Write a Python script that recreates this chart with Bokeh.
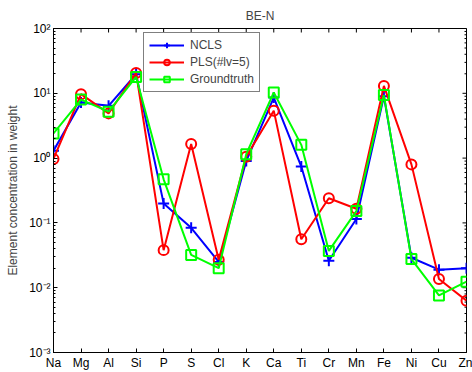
import math
from bokeh.plotting import figure
from bokeh.models import Range1d, FixedTicker, LogTicker, Legend, LegendItem
from bokeh.embed import file_html
from bokeh.resources import INLINE

# Element concentrations (weight) estimated by each method for sample BE-N
elements = ["Na", "Mg", "Al", "Si", "P", "S", "Cl", "K", "Ca", "Ti", "Cr", "Mn", "Fe", "Ni", "Cu", "Zn"]
ncls = [1.3, 7.2, 6.4, 19.7, 0.2, 0.084, 0.025, 0.9, 8.6, 0.74, 0.026, 0.115, 9.0, 0.029, 0.019, 0.020]
pls = [0.97, 9.7, 4.9, 20.6, 0.038, 1.65, 0.027, 1.05, 5.4, 0.056, 0.24, 0.165, 13.0, 0.80, 0.0136, 0.0063]
groundtruth = [2.4, 8.0, 5.2, 17.9, 0.47, 0.032, 0.020, 1.15, 10.3, 1.6, 0.037, 0.152, 9.4, 0.0277, 0.0076, 0.0124]

y_ticks = [1e-3, 1e-2, 1e-1, 1e0, 1e1, 1e2]
y_tick_labels = ["10\u207b\u00b3", "10\u207b\u00b2", "10\u207b\u00b9", "10\u2070", "10\u00b9", "10\u00b2"]

FONT = "Liberation Sans"
FS = "12px"
xs = list(range(1, len(elements) + 1))
x_lo, x_hi = xs[0], xs[-1]
y_lo, y_hi = y_ticks[0], y_ticks[-1]

p = figure(width=472, height=372, x_range=Range1d(x_lo, x_hi), y_range=Range1d(y_lo, y_hi),
           y_axis_type="log", output_backend="svg", toolbar_location=None,
           title="BE-N", min_border_left=53, min_border_right=6,
           min_border_top=28, min_border_bottom=18)
p.background_fill_color = "white"
p.border_fill_color = "white"
p.outline_line_color = "black"
p.outline_line_width = 1
p.xgrid.visible = False
p.ygrid.visible = False

p.title.align = "center"
p.title.text_font = FONT
p.title.text_font_size = FS
p.title.text_font_style = "normal"
p.title.standoff = 12

def style_axis(ax):
    ax.axis_line_color = "black"
    ax.axis_line_width = 1
    ax.major_tick_in = 4
    ax.major_tick_out = 0
    ax.minor_tick_in = 2
    ax.minor_tick_out = 0
    ax.major_tick_line_color = "black"
    ax.minor_tick_line_color = "black"
    ax.major_label_text_font = FONT
    ax.major_label_text_font_size = FS
    ax.major_label_text_color = "black"
    ax.major_label_standoff = 3

xax = p.xaxis[0]
style_axis(xax)
xax.ticker = FixedTicker(ticks=xs)
xax.major_label_overrides = {x: e for x, e in zip(xs, elements)}

yax = p.yaxis[0]
style_axis(yax)
yax.ticker = LogTicker(num_minor_ticks=10)
yax.major_label_overrides = {t: l for t, l in zip(y_ticks, y_tick_labels)}
yax.axis_label = "Element concentration in weight"
yax.axis_label_text_font = FONT
yax.axis_label_text_font_size = FS
yax.axis_label_text_font_style = "normal"
yax.axis_label_standoff = 6

# Mirrored inward ticks on the top and right edges of the box
# (dash markers centred on the frame edge; the outer half is clipped away)
p.scatter(xs, [y_hi] * len(xs), marker="dash", angle=math.pi / 2, size=8,
          line_color="black", line_width=1)
p.scatter([x_hi] * len(y_ticks), y_ticks, marker="dash", size=8,
          line_color="black", line_width=1)
minor_y = [m * t for t in y_ticks[:-1] for m in range(2, 10)]
p.scatter([x_hi] * len(minor_y), minor_y, marker="dash", size=4,
          line_color="black", line_width=1)

series = [
    ("NCLS", ncls, "#0000ff", "cross", 11),
    ("PLS(#lv=5)", pls, "#ff0000", "circle", 10),
    ("Groundtruth", groundtruth, "#00ff00", "square", 10),
]
items = []
for name, vals, color, marker, size in series:
    ln = p.line(xs, vals, line_color=color, line_width=2)
    sc = p.scatter(xs, vals, marker=marker, size=size, line_color=color,
                   fill_color=None, line_width=2)
    items.append(LegendItem(label=name, renderers=[ln, sc]))

legend = Legend(items=items, location=(90, 260))
legend.border_line_color = "black"
legend.border_line_width = 1
legend.background_fill_color = "white"
legend.background_fill_alpha = 1
legend.label_text_font = FONT
legend.label_text_font_size = FS
legend.glyph_width = 35
legend.glyph_height = 14
legend.label_height = 14
legend.label_standoff = 6
legend.spacing = 3
legend.padding = 5
legend.margin = 0
p.add_layout(legend)

open("out.html", "w").write(file_html(p, INLINE))
